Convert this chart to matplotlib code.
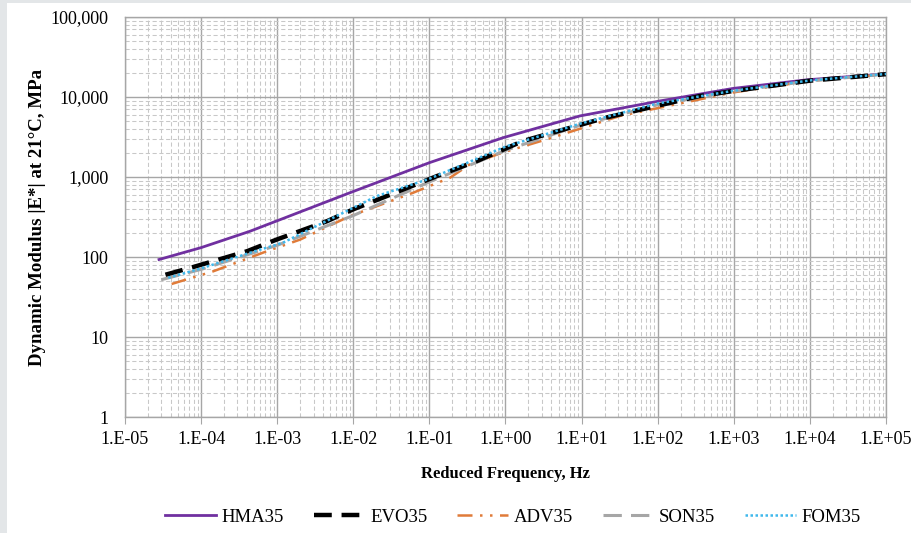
import matplotlib
matplotlib.use("Agg")
import matplotlib.pyplot as plt
from matplotlib.patches import Rectangle
from matplotlib.ticker import LogLocator, FixedLocator, NullFormatter

plt.rcParams['font.family'] = ['Liberation Serif', 'DejaVu Serif']

# Reduced frequency (Hz) and dynamic modulus |E*| (MPa) per mix
hma_f = [2.8e-5, 1.0e-4, 4.4e-4, 9.0e-3, 0.10, 0.93, 9.5, 107, 980, 9100, 9.1e4, 1e5]
hma_e = [93, 131, 210, 635, 1510, 3100, 5800, 8930, 12800, 16400, 19300, 19500]

evo_f = [3.4e-5, 8.3e-5, 4.0e-4, 9.8e-4, 4.5e-3, 9.9e-3, 0.0275, 0.125, 0.42, 1.7, 8.6, 21, 360, 1e3, 1e4, 1e5]
evo_e = [60, 76, 118, 165, 280, 393, 577, 1025, 1580, 2820, 4350, 5530, 10300, 11900, 16000, 19300]

adv_f = [4.1e-5, 1.43e-4, 7.3e-4, 2.0e-3, 9.0e-3, 0.061, 0.187, 0.34, 0.93, 3.5, 32, 980, 1e4, 1e5]
adv_e = [46, 66, 118, 165, 324, 635, 980, 1440, 2030, 2960, 5800, 11400, 15900, 19300]

son_f = [3.0e-5, 1e-4, 1e-3, 1e-2, 0.1, 1.0, 10, 100, 1e3, 1e4, 1e5]
son_e = [52, 70, 140, 330, 870, 2150, 4500, 8000, 11800, 15900, 19300]

fom_f = [3.7e-5, 1e-4, 4.4e-4, 1.19e-3, 0.0203, 0.1, 1.0, 10, 100, 1e3, 1e4, 1e5]
fom_e = [55, 72, 113, 151, 577, 950, 2400, 4700, 8300, 12000, 16100, 19400]

series_names = ["HMA35", "EVO35", "ADV35", "SON35", "FOM35"]

x_ticks = [1e-5, 1e-4, 1e-3, 1e-2, 1e-1, 1e0, 1e1, 1e2, 1e3, 1e4, 1e5]
x_tick_labels = ["1.E-05", "1.E-04", "1.E-03", "1.E-02", "1.E-01", "1.E+00",
                 "1.E+01", "1.E+02", "1.E+03", "1.E+04", "1.E+05"]
y_ticks = [1, 10, 100, 1000, 10000, 100000]
y_tick_labels = ["1", "10", "100", "1,000", "10,000", "100,000"]

fig = plt.figure(figsize=(9.12, 5.33), dpi=100, facecolor="#e3e6e8")
panel = Rectangle((7 / 912, 0), 1 - 7 / 912, 1 - 3 / 533,
                  transform=fig.transFigure, facecolor="white",
                  edgecolor="none", zorder=-10)
fig.add_artist(panel)

ax = fig.add_axes([125 / 912, 1 - 417 / 533, (886 - 125) / 912, (417 - 17) / 533])
ax.set_zorder(1)
ax.set_facecolor("white")
ax.set_xscale("log")
ax.set_yscale("log")
ax.set_xlim(1e-5, 1e5)
ax.set_ylim(1, 1e5)

ax.plot(hma_f, hma_e, color="#7030a0", lw=2.0, label=series_names[0], zorder=3)
ax.plot(evo_f, evo_e, color="black", lw=3.2, dashes=(4, 2.2), label=series_names[1], zorder=4)
ax.plot(adv_f, adv_e, color="#e07b39", lw=1.8, dashes=(6, 3, 1, 3, 1, 3), label=series_names[2], zorder=3)
ax.plot(son_f, son_e, color="#a6a6a6", lw=2.2, dashes=(6, 3), label=series_names[3], zorder=3)
ax.plot(fom_f, fom_e, color="#3fb8ec", lw=1.8, dashes=(1, 1), label=series_names[4], zorder=5)

ax.xaxis.set_major_locator(FixedLocator(x_ticks))
ax.set_xticklabels(x_tick_labels)
ax.yaxis.set_major_locator(FixedLocator(y_ticks))
ax.set_yticklabels(y_tick_labels)
ax.xaxis.set_minor_locator(LogLocator(base=10, subs=range(2, 10), numticks=100))
ax.yaxis.set_minor_locator(LogLocator(base=10, subs=range(2, 10), numticks=100))
ax.xaxis.set_minor_formatter(NullFormatter())
ax.yaxis.set_minor_formatter(NullFormatter())

ax.grid(which="major", color="#a6a6a6", lw=1.0, ls="-", zorder=1)
ax.grid(which="minor", color="#c8c8c8", lw=0.75, ls=(0, (4, 2.5)), zorder=1)
ax.set_axisbelow(True)

for s in ax.spines.values():
    s.set_color("#a6a6a6")
    s.set_linewidth(1.0)

ax.tick_params(axis="x", which="major", length=5, color="#a6a6a6", labelsize=13, pad=5)
ax.tick_params(axis="y", which="major", length=0, labelsize=13, pad=12)
ax.tick_params(which="minor", length=0)

ax.set_xlabel("Reduced Frequency, Hz", fontsize=12, fontweight="bold", labelpad=13)
ax.set_ylabel("Dynamic Modulus |E*| at 21°C, MPa", fontsize=13.6, fontweight="bold", labelpad=3)

fig.legend(loc="center", bbox_to_anchor=(0.5625, 1 - 517 / 533), ncol=5, frameon=False,
           fontsize=13.5, handlelength=2.7, columnspacing=1.6, handletextpad=0.3)

fig.savefig("out.png", dpi=100, facecolor=fig.get_facecolor())
